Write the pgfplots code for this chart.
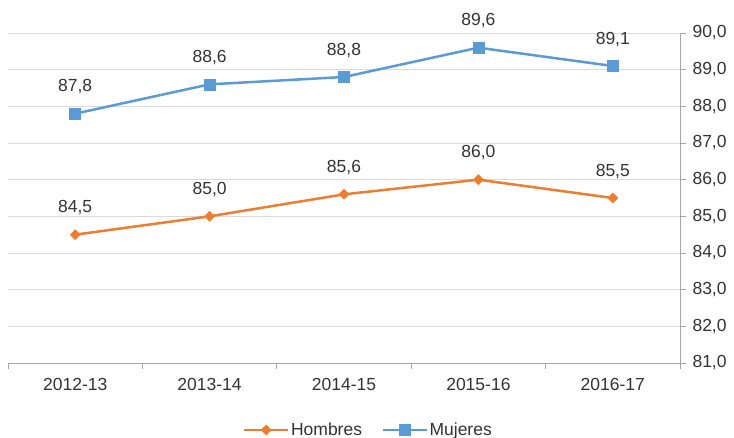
\documentclass[border=0pt]{standalone}
\usepackage{fontspec}
\setmainfont{Liberation Sans}
\usepackage{pgfplots}
\pgfplotsset{compat=1.18}
\definecolor{cOr}{HTML}{ED7D31}
\definecolor{cBl}{HTML}{5B9BD5}
\definecolor{cGrid}{HTML}{D9D9D9}
\definecolor{cAx}{HTML}{A6A6A6}
\definecolor{cTxt}{HTML}{333333}
\begin{document}
\begin{tikzpicture}[font=\fontsize{17.5}{21}\selectfont]
\begin{axis}[name=a, scale only axis, width=672pt, height=330pt,
  xmin=-0.5, xmax=4.5, ymin=81, ymax=90,
  axis x line=bottom, axis y line=right,
  axis line style={cAx, line width=0.8pt, -},
  xtick={0,1,2,3,4},
  xticklabels={2012-13,2013-14,2014-15,2015-16,2016-17},
  minor xtick={-0.5,0.5,1.5,2.5,3.5,4.5},
  ytick={81,82,...,90},
  tick align=outside,
  major tick length=6pt, minor tick length=6pt,
  major x tick style={draw=none},
  every tick/.style={cAx, line width=0.8pt},
  ymajorgrids, grid style={cGrid, line width=0.8pt},
  /pgf/number format/.cd, fixed, fixed zerofill, precision=1, use comma, assume math mode=true,
  /pgfplots/.cd,
  tick label style={text=cTxt},
  yticklabel style={xshift=3pt},
  xticklabel style={yshift=-6pt},
  nodes near coords,
  every node near coord/.append style={anchor=base, yshift=22pt, text=cTxt, font=\fontsize{17.5}{21}\selectfont},
  legend columns=2,
  legend style={draw=none, fill=none, at={(0.536,-0.203)}, anchor=center,
    /tikz/every even column/.append style={column sep=18pt}, nodes={inner sep=1.5pt, text=cTxt}},
  legend image code/.code={\draw[mark repeat=2,mark phase=2] plot coordinates {(0pt,0pt)(22pt,0pt)(44pt,0pt)};},
]
\addplot[cOr, line width=2.5pt, mark=diamond*, mark size=5pt, mark options={solid, line width=0.5pt, xscale=1.33}]
  coordinates {(0,84.5)(1,85.0)(2,85.6)(3,86.0)(4,85.5)};
\addlegendentry{Hombres}
\addplot[cBl, line width=2.5pt, mark=square*, mark size=5.5pt, mark options={solid, line width=0.5pt}]
  coordinates {(0,87.8)(1,88.6)(2,88.8)(3,89.6)(4,89.1)};
\addlegendentry{Mujeres}
\coordinate (ll) at (rel axis cs:0,0);
\end{axis}
\pgfresetboundingbox
\useasboundingbox (ll) ++(-8pt,-75pt) rectangle ++(734pt,438pt);
\end{tikzpicture}
\end{document}
